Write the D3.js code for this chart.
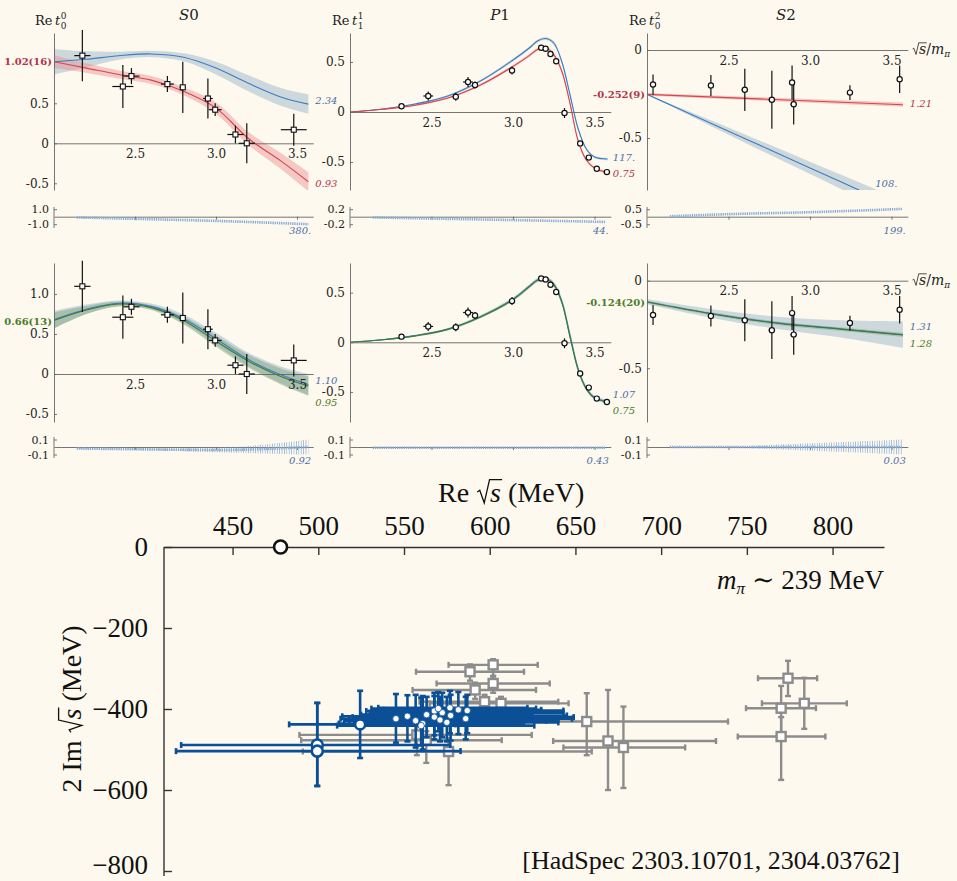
<!DOCTYPE html>
<html><head><meta charset="utf-8">
<script src="https://cdn.jsdelivr.net/npm/d3@7"></script>
<style>
body{margin:0;background:#fdf9ee;}
svg{display:block}
.sm{font-family:"DejaVu Serif",serif;}
.bg{font-family:"Liberation Serif","DejaVu Serif",serif;}
</style>
</head><body><svg id="c" width="957" height="881"></svg>
<script>
// ================= DATA =================
const s0X    = [2.175,2.425,2.478,2.70,2.795,2.95,2.995,3.12,3.19,3.48];
const s0Y    = [1.096,0.71,0.84,0.74,0.70,0.56,0.42,0.11,0.0,0.17];
const s0XErr = [0.05,0.065,0.05,0.04,0.02,0.03,0.04,0.05,0.05,0.08];
const s0YErr = [0.32,0.27,0.10,0.10,0.32,0.25,0.08,0.11,0.25,0.20];
const p1X    = [2.316,2.48,2.649,2.724,2.767,2.994,3.173,3.20,3.23,3.265,3.316,3.412,3.465,3.514,3.576];
const p1Y    = [0.057,0.16,0.152,0.30,0.27,0.415,0.642,0.632,0.58,0.507,-0.01,-0.314,-0.456,-0.567,-0.601];
const p1XErr = [0.01,0.03,0.02,0.03,0.015,0.015,0.01,0.02,0.01,0.01,0.01,0.005,0.01,0.005,0.02];
const p1YErr = [0.015,0.045,0.04,0.05,0.035,0.04,0.01,0.015,0.02,0.015,0.05,0.025,0.02,0.01,0.01];
const s2X    = [2.037,2.392,2.60,2.766,2.89,2.90,3.245,3.55];
const s2Y    = [-0.196,-0.202,-0.226,-0.283,-0.185,-0.308,-0.242,-0.166];
const s2XErr = [0.005,0.005,0.02,0.02,0.01,0.02,0.01,0.005];
const s2YErr = [0.057,0.06,0.12,0.165,0.097,0.115,0.042,0.078];

const cS0X = [2.0,2.2,2.4,2.6,2.8,3.0,3.2,3.4,3.57];
const s0BlueA = [1.02,1.05,1.095,1.117,1.075,0.94,0.75,0.58,0.49];
const s0BlueAErr = [0.16,0.1,0.05,0.04,0.05,0.08,0.1,0.11,0.12];
const s0RedA = [1.02,0.94,0.86,0.79,0.65,0.44,0.06,-0.22,-0.48];
const s0RedAErr = [0.08,0.06,0.05,0.05,0.05,0.07,0.08,0.1,0.12];
const s0GreenB = [0.67,0.80,0.875,0.83,0.67,0.41,0.16,-0.03,-0.15];
const s0GreenBErr = [0.1,0.05,0.03,0.03,0.05,0.07,0.08,0.1,0.12];
const s0BlueB = [0.68,0.81,0.885,0.845,0.69,0.44,0.18,-0.01,-0.13];
const s0BlueBErr = [0.11,0.06,0.035,0.035,0.055,0.075,0.085,0.105,0.13];

const cP1X = [2.0,2.2,2.4,2.6,2.8,3.0,3.1,3.15,3.2,3.25,3.3,3.35,3.4,3.45,3.5,3.58];
const p1RedA  = [0,0.027,0.068,0.14,0.27,0.456,0.564,0.625,0.642,0.574,0.405,0.085,-0.29,-0.48,-0.56,-0.605];
const p1BlueA = [0,0.03,0.08,0.16,0.31,0.52,0.64,0.71,0.735,0.69,0.5,0.17,-0.17,-0.37,-0.45,-0.47];
const p1GreenB= [0,0.025,0.065,0.13,0.255,0.43,0.56,0.625,0.64,0.58,0.40,0.05,-0.28,-0.47,-0.56,-0.6];
const p1BlueB = [0,0.026,0.067,0.133,0.258,0.435,0.565,0.628,0.642,0.585,0.41,0.07,-0.27,-0.465,-0.555,-0.597];
const p1ErrA  = [0,0.005,0.008,0.01,0.012,0.015,0.015,0.015,0.015,0.02,0.02,0.02,0.02,0.015,0.012,0.012];
const p1ErrB  = [0,0.006,0.01,0.012,0.015,0.018,0.02,0.02,0.02,0.025,0.035,0.04,0.035,0.025,0.02,0.02];

const cS2XA = [2.0,3.57];
const s2RedA = [-0.252,-0.311];
const s2RedAErr = [0.008,0.012];
const cS2XB = [2.0,2.5,3.0,3.5,3.7];
const s2BlueA = [-0.252,-0.461,-0.67,-0.879,-0.963];
const s2BlueAErr = [0.0,0.02,0.035,0.05,0.055];
const cS2XC = [2.0,2.4,2.8,3.2,3.57];
const s2GreenB = [-0.122,-0.19,-0.243,-0.278,-0.31];
const s2GreenBErr = [0.008,0.008,0.01,0.01,0.012];
const s2BlueB = [-0.12,-0.188,-0.241,-0.276,-0.308];
const s2BlueBErr = [0.015,0.025,0.035,0.05,0.076];

const resX = [2.14,2.5,3.0,3.57];
const resA = [[-0.1,-0.29,-0.56,-1.0],[-0.02,-0.05,-0.09,-0.14],[0.03,0.17,0.3,0.52]];
const resB = [[-0.02,-0.03,-0.04,0.0],[-0.01,-0.01,-0.01,-0.01],[0.0,0.0,0.0,0.0]];
const resBErr = [[0.005,0.01,0.03,0.1],[0.004,0.004,0.005,0.006],[0.005,0.01,0.05,0.1]];
const resTick = [[1.0,0.2,0.5],[0.1,0.1,0.1]];
const resTickLbl = [["1.0","0.2","0.5"],["0.1","0.1","0.1"]];
const resNote = [["380.","44.","199."],["0.92","0.43","0.03"]];

const fitLeft = [["1.02(16)",null,"-0.252(9)"],["0.66(13)",null,"-0.124(20)"]];
const fitLeftVal = [[1.02,null,-0.252],[0.66,null,-0.124]];
const endLbl = [[["2.34","0.93"],["117.","0.75"],["1.21","108."]],[["1.10","0.95"],["1.07","0.75"],["1.31","1.28"]]];
const endLblVal = [[[0.53,-0.50],[-0.45,-0.61],[-0.303,-0.756]],[[-0.08,-0.35],[-0.53,-0.69],[-0.26,-0.356]]];

const threshRe = [478], threshIm = [0];
const blueRe   = [499.4,499.4,524.4,545.3,556.8,560.9,563.2,567.7,567.7,571.0,572.3,576.8,577.2,581.7,586.0,586.9,560,575,570,552];
const blueIm   = [-489,-504,-438,-424,-429,-436,-414,-405,-420,-427,-409,-397,-416,-402,-424,-404,-441,-433,-399,-418];
const blueReLo = [420,417,483,513,515,512,525,528,520,518,530,535,530,538,525,540,511,521,531,514];
const blueReHi = [577,583,580,612,633,620,625,630,649,640,643,622,645,630,648,643,626,640,627,618];
const blueImHi = [-385,-385,-355,-363,-365,-368,-370,-360,-368,-370,-360,-355,-365,-358,-370,-365,-372,-370,-358,-366];
const blueImLo = [-590,-590,-521,-483,-495,-500,-470,-465,-475,-480,-470,-460,-478,-462,-475,-460,-490,-480,-455,-480];

const grayRe   = [602,588.5,602,591.5,597,606.6,557.5,563,576,656.6,669,678,774,770,783.5,770];
const grayIm   = [-291,-308,-337,-353,-382,-386,-464,-477,-505,-431,-479,-495,-324,-398,-386,-468];
const grayReLo = [576,557,569,555,559,565,489,490,491,590,637,643,756.5,749.5,758.8,744.7];
const grayReHi = [628,620,635,627,640,646,624.5,607,659.5,739,732,714,791,790.3,808.3,795.8];
const grayImHi = [-277,-290,-320,-335,-365,-370,-440,-455,-472,-361,-353,-394,-281,-343,-323,-420];
const grayImLo = [-318,-330,-360,-375,-400,-400,-514,-533,-588,-514,-600,-595,-368,-476,-449,-575];

const poleXTicks = [450,500,550,600,650,700,750,800];
const poleYTicks = [0,-200,-400,-600,-800];

// ================= STYLE / LAYOUT =================
const BG="#fdf9ee";
const RED="#d8434f", REDB="#e88f8f";
const BLUE="#3b7cc2", BLUEB="#9db7c9";
const GREEN="#3c7a35", GREENB="#7fa274";
const LBLBLUE="#4d6ea6", LBLRED="#b0344a", LBLGREEN="#4a7a2c";
const INK="#222";
const cols=[{x0:54,ppx:162},{x0:350,ppx:163},{x0:647,ppx:163}];
const rows=[{top:33,bottom:190,rTop:207,rBot:228,rMid:216.7},{top:263,bottom:422,rTop:437,rBot:458,rMid:447}];
const zeroPx=[[143.3,112,50],[374,342.3,280.7]];
const unitPx=[[80,100,176],[80,99.3,175]];
const yTicks=[[[-0.5,0,0.5],[-0.5,0,0.5],[-0.5,0]],[[-0.5,0,0.5,1.0],[-0.5,0,0.5],[-0.5,0]]];

const svg=d3.select("#c");
svg.append("rect").attr("width",957).attr("height",881).attr("fill",BG);
const defs=svg.append("defs");
const pat=defs.append("pattern").attr("id","hatch").attr("patternUnits","userSpaceOnUse").attr("width",2.4).attr("height",4);
pat.append("line").attr("x1",1.2).attr("x2",1.2).attr("y1",0).attr("y2",4).attr("stroke","#7aa3d2").attr("stroke-width",0.8);

function zipC(xs,ys,es){return xs.map((x,i)=>({x:x,y:ys[i],e:es?es[i]:0}));}

const panelSpecs=[
 [ {curves:[{x:cS0X,y:s0BlueA,e:s0BlueAErr,c:BLUE,b:BLUEB,bo:0.5},{x:cS0X,y:s0RedA,e:s0RedAErr,c:RED,b:REDB,bo:0.45}], data:[s0X,s0Y,s0XErr,s0YErr], shape:"sq", endC:[LBLBLUE,LBLRED], leftC:LBLRED},
   {curves:[{x:cP1X,y:p1BlueA,e:p1ErrA,c:BLUE,b:BLUEB,bo:0.5},{x:cP1X,y:p1RedA,e:p1ErrA,c:RED,b:REDB,bo:0.45}], data:[p1X,p1Y,p1XErr,p1YErr], shape:"ci", endC:[LBLBLUE,LBLRED]},
   {curves:[{x:cS2XB,y:s2BlueA,e:s2BlueAErr,c:BLUE,b:BLUEB,bo:0.5},{x:cS2XA,y:s2RedA,e:s2RedAErr,c:RED,b:REDB,bo:0.45}], data:[s2X,s2Y,s2XErr,s2YErr], shape:"ci", endC:[LBLRED,LBLBLUE], leftC:LBLRED, endAt:[null,3.4]} ],
 [ {curves:[{x:cS0X,y:s0BlueB,e:s0BlueBErr,c:BLUE,b:BLUEB,bo:0.5},{x:cS0X,y:s0GreenB,e:s0GreenBErr,c:GREEN,b:GREENB,bo:0.45}], data:[s0X,s0Y,s0XErr,s0YErr], shape:"sq", endC:[LBLBLUE,LBLGREEN], leftC:LBLGREEN},
   {curves:[{x:cP1X,y:p1BlueB,e:p1ErrB,c:BLUE,b:BLUEB,bo:0.55},{x:cP1X,y:p1GreenB,e:p1ErrA,c:GREEN,b:GREENB,bo:0.4}], data:[p1X,p1Y,p1XErr,p1YErr], shape:"ci", endC:[LBLBLUE,LBLGREEN]},
   {curves:[{x:cS2XC,y:s2BlueB,e:s2BlueBErr,c:BLUE,b:BLUEB,bo:0.5},{x:cS2XC,y:s2GreenB,e:s2GreenBErr,c:GREEN,b:GREENB,bo:0.45}], data:[s2X,s2Y,s2XErr,s2YErr], shape:"ci", endC:[LBLBLUE,LBLGREEN], leftC:LBLGREEN} ]
];

function drawPanel(r,c){
  const sp=panelSpecs[r][c], col=cols[c], row=rows[r];
  const x=d3.scaleLinear().domain([2.0,3.6]).range([col.x0,col.x0+1.6*col.ppx]);
  const z=zeroPx[r][c], u=unitPx[r][c];
  const y=d3.scaleLinear().domain([(z-row.bottom)/u,(z-row.top)/u]).range([row.bottom,row.top]);
  const g=svg.append("g");
  const cid="clip"+r+c;
  defs.append("clipPath").attr("id",cid).append("rect").attr("x",x.range()[0]).attr("y",row.top).attr("width",x.range()[1]-x.range()[0]).attr("height",row.bottom-row.top);
  const pg=g.append("g").attr("clip-path","url(#"+cid+")");
  const area=d3.area().x(d=>x(d.x)).y0(d=>y(d.y-d.e)).y1(d=>y(d.y+d.e)).curve(d3.curveCatmullRom);
  const line=d3.line().x(d=>x(d.x)).y(d=>y(d.y)).curve(d3.curveCatmullRom);
  sp.curves.forEach(cv=>{pg.append("path").attr("d",area(zipC(cv.x,cv.y,cv.e))).attr("fill",cv.b).attr("opacity",cv.bo);});
  const ya=d3.axisLeft(y).tickValues(yTicks[r][c]).tickSize(-3).tickSizeOuter(0).tickPadding(5)
     .tickFormat(d=>d===0?"0":d3.format(".1f")(d).replace("\u2212","-"));
  const yg=g.append("g").attr("transform","translate("+col.x0+",0)").call(ya);
  const xa=d3.axisBottom(x).tickValues([2.5,3.0,3.5]).tickSize(0).tickSizeOuter(0).tickPadding(6).tickFormat(d3.format(".1f"));
  const xg=g.append("g").attr("transform","translate(0,"+y(0)+")").call(xa);
  [yg,xg].forEach(a=>{a.selectAll("path,line").attr("stroke","#666").attr("stroke-width",0.9);
     a.selectAll("text").attr("class","sm").style("font-size","12px").attr("fill",INK).attr("font-family",null);});
  sp.curves.forEach(cv=>{pg.append("path").attr("d",line(zipC(cv.x,cv.y))).attr("fill","none").attr("stroke",cv.c).attr("stroke-width",1.1);});
  const [dx,dy,dxe,dye]=sp.data;
  const dg=g.append("g");
  dx.forEach((xv,i)=>{
    dg.append("line").attr("x1",x(xv)).attr("x2",x(xv)).attr("y1",y(dy[i]-dye[i])).attr("y2",y(dy[i]+dye[i])).attr("stroke","#111").attr("stroke-width",1.2);
    dg.append("line").attr("x1",x(xv-dxe[i])).attr("x2",x(xv+dxe[i])).attr("y1",y(dy[i])).attr("y2",y(dy[i])).attr("stroke","#111").attr("stroke-width",1.2);
  });
  dx.forEach((xv,i)=>{
    if(sp.shape==="sq") dg.append("rect").attr("x",x(xv)-2.5).attr("y",y(dy[i])-2.5).attr("width",5).attr("height",5).attr("fill","#fff").attr("stroke","#111").attr("stroke-width",1.1);
    else dg.append("circle").attr("cx",x(xv)).attr("cy",y(dy[i])).attr("r",2.6).attr("fill","#fff").attr("stroke","#111").attr("stroke-width",1.2);
  });
  if(fitLeft[r][c]){
    g.append("text").attr("class","sm").attr("x",col.x0-2).attr("y",y(fitLeftVal[r][c])+3.5).attr("text-anchor","end")
     .style("font-size","10px").style("font-weight","bold").style("fill",sp.leftC).text(fitLeft[r][c]);
  }
  endLbl[r][c].forEach((t,k)=>{
    const xa2 = (sp.endAt && sp.endAt[k]) ? x(sp.endAt[k]) : x(3.6)+2;
    g.append("text").attr("class","sm").attr("x",xa2).attr("y",y(endLblVal[r][c][k])+3.5)
     .style("font-size","10px").style("font-style","italic").style("fill",sp.endC[k]).text(t);
  });
  const lab=resTick[r][c];
  const yr=d3.scaleLinear().domain([-lab,lab]).range([row.rMid+7.5,row.rMid-7.5]);
  const rg=g.append("g");
  rg.append("line").attr("x1",col.x0).attr("x2",col.x0).attr("y1",row.rTop).attr("y2",row.rBot).attr("stroke","#666").attr("stroke-width",0.9);
  const rya=d3.axisLeft(yr).tickValues([lab,-lab]).tickSize(-3).tickSizeOuter(0).tickPadding(5)
     .tickFormat(d=>d>0?resTickLbl[r][c]:"-"+resTickLbl[r][c]);
  const ryg=rg.append("g").attr("transform","translate("+col.x0+",0)").call(rya);
  ryg.select(".domain").remove();
  const rxa=d3.axisBottom(x).tickValues([2.5,3.0,3.5]).tickSize(3).tickSizeOuter(0).tickFormat("");
  const rxg=rg.append("g").attr("transform","translate(0,"+row.rMid+")").call(rxa);
  [ryg,rxg].forEach(a=>{a.selectAll("path,line").attr("stroke","#666").attr("stroke-width",0.9);
     a.selectAll("text").attr("class","sm").style("font-size","11px").attr("fill",INK).attr("font-family",null);});
  const rvals = r===0 ? resA[c] : resB[c];
  if(r===1){
    const ra=d3.area().x(d=>x(d.x)).y0(d=>yr(d.y-d.e)).y1(d=>yr(d.y+d.e)).curve(d3.curveMonotoneX);
    rg.append("path").attr("d",ra(zipC(resX,rvals,resBErr[c]))).attr("fill","url(#hatch)").attr("opacity",0.85);
  }
  const rl=d3.line().x(d=>x(d.x)).y(d=>yr(d.y)).curve(d3.curveMonotoneX);
  rg.append("path").attr("d",rl(zipC(resX,rvals))).attr("fill","none").attr("stroke","#86acd8").attr("stroke-width",2.6).attr("stroke-dasharray","1.3,0.9");
  rg.append("text").attr("class","sm").attr("x",x(3.6)-2).attr("y",row.rBot+6).attr("text-anchor","end")
    .style("font-size","10px").style("font-style","italic").style("fill",LBLBLUE).text(resNote[r][c]);
}
for(let r=0;r<2;r++)for(let c=0;c<3;c++)drawPanel(r,c);

function radText(parent,x,y,parts,size,anchor,rot,color,cls,sw){
  const g=parent.append("g").attr("transform","translate("+x+","+y+")"+(rot?" rotate("+rot+")":""));
  const t=g.append("text").attr("class",cls).attr("text-anchor",anchor).style("font-size",size+"px").style("fill",color);
  parts.forEach(p=>{const s=t.append("tspan").text(p.t); if(p.i)s.style("font-style","italic"); if(p.dy)s.attr("dy",p.dy); if(p.fs)s.style("font-size",p.fs);});
  const n=t.node(), k=n.textContent.indexOf("\u2002");
  const a=n.getStartPositionOfChar(k), b=n.getEndPositionOfChar(k+1);
  const e=size, x0=a.x+0.04*e, by=a.y;
  const d="M"+x0+","+(by-0.36*e)+" L"+(x0+0.09*e)+","+(by-0.42*e)+" L"+(x0+0.25*e)+","+(by+0.03*e)+" L"+(x0+0.44*e)+","+(by-0.8*e)+" L"+(b.x+0.04*e)+","+(by-0.8*e);
  g.append("path").attr("d",d).attr("fill","none").attr("stroke",color).attr("stroke-width",sw).attr("stroke-linejoin","miter");
  return t;
}

function reT(x,y,sup,sub){
  const t=svg.append("text").attr("class","sm").attr("x",x).attr("y",y).style("font-size","13px").style("fill",INK);
  t.append("tspan").text("Re\u2009");
  t.append("tspan").style("font-style","italic").text("t");
  const w=t.node().getComputedTextLength();
  svg.append("text").attr("class","sm").attr("x",x+w+0.5).attr("y",y-6).style("font-size","9px").style("fill",INK).text(sup);
  svg.append("text").attr("class","sm").attr("x",x+w+0.5).attr("y",y+4).style("font-size","9px").style("fill",INK).text(sub);
}
reT(35,25,"0","0"); reT(332,25,"1","1"); reT(629,25,"2","0");
const ptitles=[["S","0",189],["P","1",500],["S","2",786]];
ptitles.forEach(p=>{
  const t=svg.append("text").attr("class","sm").attr("x",p[2]).attr("y",20).attr("text-anchor","middle").style("font-size","15px").style("fill",INK);
  t.append("tspan").style("font-style","italic").text(p[0]);
  t.append("tspan").text(p[1]);
});
[54,285].forEach(yb=>{
  radText(svg,912,yb,[{t:"\u2002"},{t:"s",i:1},{t:"/"},{t:"m",i:1},{t:"\u03C0",i:1,dy:3,fs:"9px"}],14,"start",0,INK,"sm",0.8);
});

// ================= POLE PLOT =================
const px=d3.scaleLinear().domain([410,830]).range([164,884]);
const py=d3.scaleLinear().domain([0,-800]).range([547,871]);
const pg=svg.append("g");
const xa=d3.axisTop(px).tickValues(poleXTicks).tickSize(-8).tickSizeOuter(0).tickPadding(12);
const xg=pg.append("g").attr("transform","translate(0,547)").call(xa);
const ya=d3.axisLeft(py).tickValues(poleYTicks).tickSize(-8).tickSizeOuter(0).tickPadding(16);
const yg=pg.append("g").attr("transform","translate(164,0)").call(ya);
[xg,yg].forEach(a=>{a.selectAll("path,line").attr("stroke","#333").attr("stroke-width",1.4);
  a.selectAll("text").attr("class","bg").style("font-size","27px").attr("fill","#111").attr("font-family",null);});
yg.select(".domain").attr("d","M0,547V876");
yg.selectAll(".tick text").filter(d=>d===-800).attr("dy","0.08em");

function ebar(g,x1,y1,x2,y2,col,w,cap){
  g.append("line").attr("x1",x1).attr("x2",x2).attr("y1",y1).attr("y2",y2).attr("stroke",col).attr("stroke-width",w);
  if(y1===y2){
    [x1,x2].forEach(xx=>g.append("line").attr("x1",xx).attr("x2",xx).attr("y1",y1-cap).attr("y2",y1+cap).attr("stroke",col).attr("stroke-width",w));
  } else {
    [y1,y2].forEach(yy=>g.append("line").attr("x1",x1-cap).attr("x2",x1+cap).attr("y1",yy).attr("y2",yy).attr("stroke",col).attr("stroke-width",w));
  }
}
const GRAY="#8c8c8c", DBLUE="#0b4f97";
const grg=pg.append("g");
grayRe.forEach((v,i)=>{
  ebar(grg,px(grayReLo[i]),py(grayIm[i]),px(grayReHi[i]),py(grayIm[i]),GRAY,2.4,3);
  ebar(grg,px(v),py(grayImHi[i]),px(v),py(grayImLo[i]),GRAY,2.4,3);
});
grayRe.forEach((v,i)=>{
  grg.append("rect").attr("x",px(v)-4.5).attr("y",py(grayIm[i])-4.5).attr("width",9).attr("height",9).attr("fill","#fff").attr("stroke",GRAY).attr("stroke-width",2.4);
});
const blg=pg.append("g");
blueRe.forEach((v,i)=>{
  ebar(blg,px(blueReLo[i]),py(blueIm[i]),px(blueReHi[i]),py(blueIm[i]),DBLUE,2.6,3);
  ebar(blg,px(v),py(blueImHi[i]),px(v),py(blueImLo[i]),DBLUE,2.6,3);
});
blueRe.forEach((v,i)=>{
  const rr = i<2 ? 5.5 : (i===2 ? 5 : 3.2);
  blg.append("circle").attr("cx",px(v)).attr("cy",py(blueIm[i])).attr("r",rr).attr("fill","#fff").attr("stroke",DBLUE).attr("stroke-width",i<3?2.6:0.8);
});
threshRe.forEach((v,i)=>{
  pg.append("circle").attr("cx",px(v)).attr("cy",py(threshIm[i])).attr("r",6.5).attr("fill","#fff").attr("stroke","#111").attr("stroke-width",2.6);
});

radText(svg,438,502,[{t:"Re "},{t:"\u2002"},{t:"s",i:1},{t:" (MeV)"}],28,"start",0,"#111","bg",1.3);
radText(svg,81,709,[{t:"2 Im "},{t:"\u2002"},{t:"s",i:1},{t:" (MeV)"}],28,"middle",-90,"#111","bg",1.3);
const mt=svg.append("text").attr("class","bg").attr("x",884).attr("y",589).attr("text-anchor","end").style("font-size","27px").style("fill","#111");
mt.append("tspan").style("font-style","italic").text("m");
mt.append("tspan").attr("dy",5).style("font-size","17px").style("font-style","italic").text("\u03C0");
mt.append("tspan").attr("dy",-5).text(" \u223C 239 MeV");
svg.append("text").attr("class","bg").attr("x",900).attr("y",869).attr("text-anchor","end").style("font-size","26px").style("fill","#111").text("[HadSpec 2303.10701, 2304.03762]");
</script></body></html>
